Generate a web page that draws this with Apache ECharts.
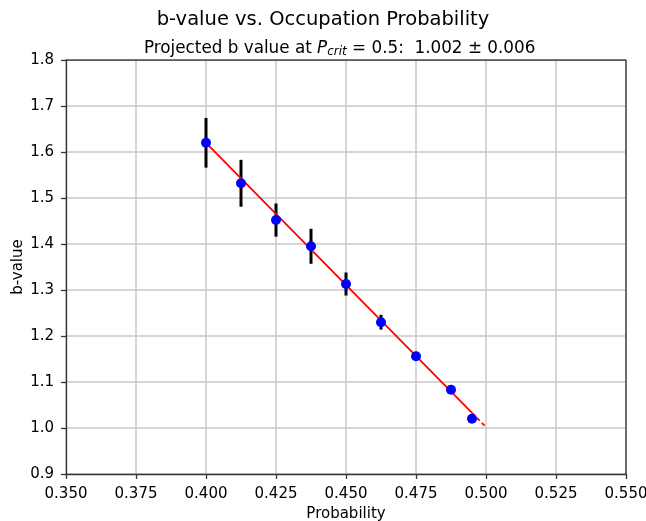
<!DOCTYPE html>
<html><head><meta charset="utf-8">
<script src="https://cdn.jsdelivr.net/npm/echarts@6/dist/echarts.min.js"></script>
<style>html,body{margin:0;padding:0;background:#fff}#c{width:646px;height:521px}</style>
</head><body><div id="c"></div>
<script>
const probX = [0.400, 0.4125, 0.425, 0.4375, 0.450, 0.4625, 0.475, 0.4875, 0.495];
const bValues = [1.620, 1.532, 1.452, 1.395, 1.313, 1.230, 1.156, 1.083, 1.020];
const bErrors = [0.054, 0.051, 0.036, 0.038, 0.025, 0.016, 0.008, 0.006, 0.005];
const fitX = [0.400, 0.495];
const fitY = [1.620, 1.033];
const projX = [0.495, 0.500];
const projY = [1.033, 1.002];
const xTicks = [0.350, 0.375, 0.400, 0.425, 0.450, 0.475, 0.500, 0.525, 0.550];
const yTicks = [0.9, 1.0, 1.1, 1.2, 1.3, 1.4, 1.5, 1.6, 1.7, 1.8];

const font = 'DejaVu Sans';
const chart = echarts.init(document.getElementById('c'));
const errData = probX.map((x, i) => [x, bValues[i] - bErrors[i], bValues[i] + bErrors[i]]);
chart.setOption({
  animation: false,
  title: [{
    text: 'b-value vs. Occupation Probability',
    left: 'center', top: 5,
    textStyle: {fontFamily: font, fontSize: 19.5, fontWeight: 'normal', color: '#000'}
  }, {
    text: 'Projected b value at {i|P}{s|crit} = 0.5:  1.002 ± 0.006',
    left: 139, top: 34,
    textStyle: {fontFamily: font, fontSize: 16.8, fontWeight: 'normal', color: '#000',
      rich: {
        i: {fontFamily: font, fontSize: 16.8, fontStyle: 'italic', color: '#000'},
        s: {fontFamily: font, fontSize: 12, fontStyle: 'italic', color: '#000', padding: [7, 0, 0, 0]}
      }}
  }],
  grid: {left: 66, right: 20, top: 60, bottom: 47, containLabel: false, outerBoundsMode: 'none'},
  xAxis: {
    type: 'value', min: 0.35, max: 0.55, interval: 0.025,
    name: 'Probability', nameLocation: 'middle', nameGap: 33, nameMoveOverlap: false,
    nameTextStyle: {fontFamily: font, fontSize: 15, color: '#000'},
    axisLine: {show: true, lineStyle: {color: '#333', width: 1.3}},
    axisTick: {show: true, length: 5, lineStyle: {color: '#333', width: 1.3}},
    axisLabel: {fontFamily: font, fontSize: 15, color: '#000', margin: 13,
      formatter: v => v.toFixed(3)},
    splitLine: {show: true, lineStyle: {color: '#c8c8c8', width: 1.5}}
  },
  yAxis: {
    type: 'value', min: 0.9, max: 1.8, interval: 0.1,
    name: 'b-value', nameLocation: 'middle', nameGap: 40, nameMoveOverlap: false,
    nameTextStyle: {fontFamily: font, fontSize: 15, color: '#000'},
    axisLine: {show: true, lineStyle: {color: '#333', width: 1.3}},
    axisTick: {show: true, length: 5, lineStyle: {color: '#333', width: 1.3}},
    axisLabel: {fontFamily: font, fontSize: 15, color: '#000', margin: 12,
      formatter: v => v.toFixed(1)},
    splitLine: {show: true, lineStyle: {color: '#c8c8c8', width: 1.5}}
  },
  series: [
    {
      type: 'custom', z: 3,
      renderItem: (params, api) => {
        const p1 = api.coord([api.value(0), api.value(1)]);
        const p2 = api.coord([api.value(0), api.value(2)]);
        return {type: 'line', shape: {x1: p1[0], y1: p1[1], x2: p2[0], y2: p2[1]},
          style: {stroke: '#000', lineWidth: 3}};
      },
      data: errData
    },
    {
      type: 'line', z: 4, symbol: 'none',
      data: fitX.map((x, i) => [x, fitY[i]]),
      lineStyle: {color: '#ff0000', width: 1.8}
    },
    {
      type: 'line', z: 4, symbol: 'none',
      data: projX.map((x, i) => [x, projY[i]]),
      lineStyle: {color: '#ff0000', width: 1.8, type: [4, 3]}
    },
    {
      type: 'scatter', z: 5, symbol: 'circle', symbolSize: 10,
      itemStyle: {color: '#0000ff', opacity: 1},
      data: probX.map((x, i) => [x, bValues[i]])
    },
    {
      type: 'line', z: 2, symbol: 'none', silent: true,
      data: [[0.35, 1.8], [0.55, 1.8], [0.55, 0.9]],
      lineStyle: {color: '#333', width: 1.3}
    }
  ]
});
</script></body></html>
